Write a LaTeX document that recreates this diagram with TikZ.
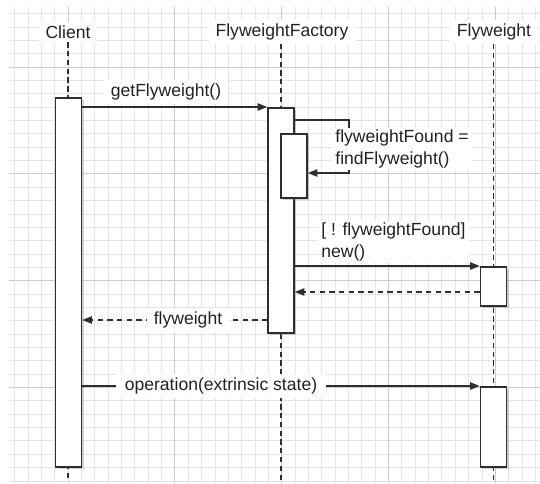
\documentclass[tikz,border=0pt]{standalone}
\usepackage{fontspec}
\setmainfont{Liberation Sans}
\usetikzlibrary{positioning,arrows.meta,calc,shadows}
\definecolor{LineGray}{HTML}{2E2E2E}
\definecolor{TextGray}{HTML}{222222}
\definecolor{GridMinor}{HTML}{E4E4E4}
\definecolor{GridMajor}{HTML}{CCCCCC}

\begin{document}
\begin{tikzpicture}[x=0.02cm, y=-0.02cm,
    font=\fontsize{10}{12.5}\selectfont, text=TextGray,
    lbl/.style={fill=white, inner xsep=4pt, inner ysep=2pt},
    actbox/.style={draw=LineGray, line width=0.9pt, fill=white, anchor=north,
      minimum width=0.52cm, inner sep=0pt,
      drop shadow={shadow xshift=1.2pt, shadow yshift=-1.2pt, opacity=0.35}},
    life/.style={draw=LineGray, line width=0.9pt, dash pattern=on 3pt off 2pt},
    msg/.style={draw=LineGray, line width=0.9pt, -{Triangle[length=5.5pt,width=4.2pt]}},
    ret/.style={msg, dash pattern=on 3pt off 2.5pt}]
  \useasboundingbox (0,0) rectangle (540,483);

  % grid paper
  \foreach \k in {-4,...,35}
    \draw[GridMinor, line width=0.4pt] ({68+13.35*\k},7) -- ({68+13.35*\k},483);
  \foreach \k in {-4,...,31}
    \draw[GridMinor, line width=0.4pt] (9,{67+13.35*\k}) -- (540,{67+13.35*\k});
  \foreach \k in {0,...,4}
    \draw[GridMajor, line width=0.5pt] ({68+106.8*\k},7) -- ({68+106.8*\k},483);
  \foreach \k in {0,...,3}
    \draw[GridMajor, line width=0.5pt] (9,{67+106.8*\k}) -- (540,{67+106.8*\k});

  % participants
  \node[lbl] (client) at (68,32) {Client};
  \node[lbl] (factory) at (282,32) {FlyweightFactory};
  \node[lbl] (fw) at (494,32) {Flyweight};

  \coordinate (clientend) at (68,480);
  \coordinate (factend) at (281,480);
  \coordinate (fwend) at (493.5,480);

  \draw[life] (client) -- (clientend);
  \draw[life] (factory.south -| factend) -- (factend);
  \draw[life] (fw.south -| fwend) -- (fwend);

  % activations
  \node[actbox, minimum height=7.38cm] (clientbox) at (68.5,97) {};
  \node[actbox, minimum height=4.5cm] (factbox) at (281,107) {};
  \node[actbox, minimum height=1.28cm] (findbox) at (294,133) {};
  \node[actbox, minimum height=0.78cm] (fw1) at (493.5,266) {};
  \node[actbox, minimum height=1.6cm] (fw2) at (493.5,386) {};

  % message levels
  \coordinate (selftop) at (349,120);
  \coordinate (selfbot) at (349,173);
  \coordinate (newret) at (0,292);
  \coordinate (fwret) at (0,320);

  % messages
  \draw[msg] (clientbox.east |- factbox.north) -- (factbox.north west);
  \node[lbl] (getlbl) at (166,92) {getFlyweight()};

  \draw[msg] (factbox.east |- selftop) -- (selftop) -- (selfbot) -- (findbox.east |- selfbot);
  \node[lbl, align=left, anchor=west, inner xsep=2pt, inner ysep=1pt] (findlbl) at (331.5,149)
    {flyweightFound =\\findFlyweight()};

  \node[lbl, align=left, anchor=west, inner xsep=2pt, inner ysep=1pt] (newlbl) at (317.5,242)
    {[ ! flyweightFound]\\new()};
  \draw[msg] (factbox.east |- fw1.north) -- (fw1.north west);
  \draw[ret] (fw1.west |- newret) -- (factbox.east |- newret);

  \draw[ret] (factbox.west |- fwret) -- (clientbox.east |- fwret);
  \node[lbl] (fwlbl) at (188,320) {flyweight};

  \draw[msg] (clientbox.east |- fw2.north) -- (fw2.north west);
  \node[lbl, inner xsep=5pt] (oplbl) at (221,386) {operation(extrinsic state)};
\end{tikzpicture}
\end{document}
